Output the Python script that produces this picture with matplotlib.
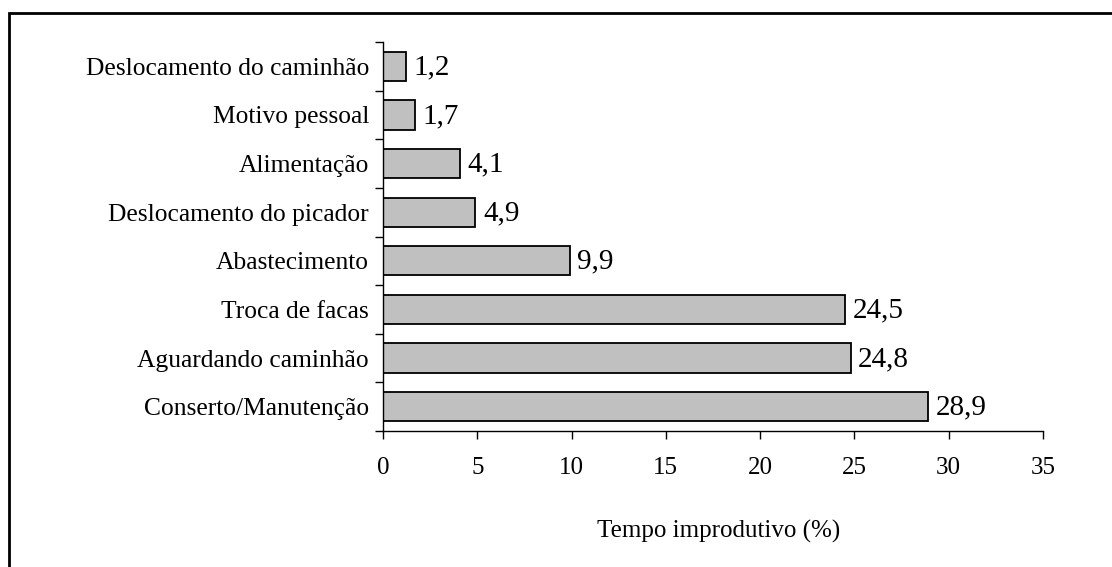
import matplotlib
matplotlib.use("Agg")
import matplotlib.pyplot as plt
from matplotlib.patches import Rectangle
from matplotlib.ticker import FixedLocator

categories = ["Conserto/Manutenção", "Aguardando caminhão", "Troca de facas",
              "Abastecimento", "Deslocamento do picador", "Alimentação",
              "Motivo pessoal", "Deslocamento do caminhão"]
values = [28.9, 24.8, 24.5, 9.9, 4.9, 4.1, 1.7, 1.2]
value_labels = ["28,9", "24,8", "24,5", "9,9", "4,9", "4,1", "1,7", "1,2"]
xticks = [0, 5, 10, 15, 20, 25, 30, 35]

plt.rcParams['font.family'] = ['Liberation Serif', 'DejaVu Serif']
plt.rcParams['font.size'] = 18

fig = plt.figure(figsize=(11.12, 5.67), dpi=100)
ax = fig.add_axes([383/1112, 1-431/567, (1043-383)/1112, (431-42)/567])

ypos = list(range(len(categories)))
ax.barh(ypos, values, height=0.6, color="#C0C0C0", edgecolor="black", linewidth=1.3)
for y, v, lab in zip(ypos, values, value_labels):
    ax.text(v + 0.4, y - 0.02, lab, va="center", ha="left", fontsize=21)

ax.set_xlim(0, 35)
ax.set_ylim(-0.5, len(categories) - 0.5)
ax.set_xticks(xticks)
ax.set_xticklabels([str(t) for t in xticks])
ax.set_yticks(ypos)
ax.set_yticklabels(categories, fontsize=18.4)
ax.yaxis.set_minor_locator(FixedLocator([i - 0.5 for i in range(len(categories) + 1)]))
ax.tick_params(axis="y", which="major", length=0, pad=10)
ax.tick_params(axis="y", which="minor", length=6, width=1, direction="out")
ax.tick_params(axis="x", which="major", length=6, width=1, direction="out", pad=13)
for s in ["top", "right"]:
    ax.spines[s].set_visible(False)
for s in ["left", "bottom"]:
    ax.spines[s].set_linewidth(1)
ax.set_xlabel("Tempo improdutivo (%)", labelpad=29.5)
ax.xaxis.label.set_x(0.509)

border = Rectangle((9/1112, -0.2), 1.2, 1.2 - 13/567, transform=fig.transFigure,
                   fill=False, edgecolor="black", linewidth=2, clip_on=False)
fig.patches.append(border)

fig.savefig("out.png", dpi=100)
